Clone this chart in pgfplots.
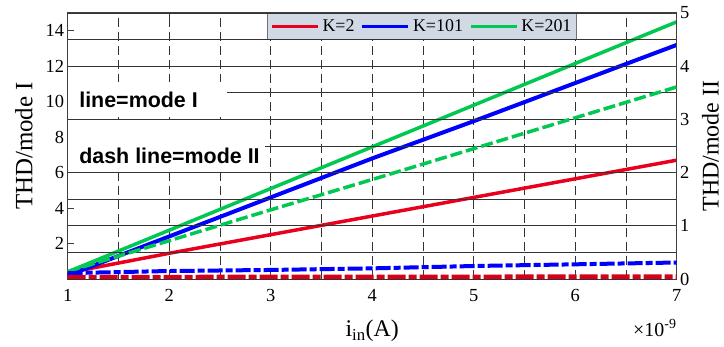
\documentclass[border=0pt]{standalone}
\usepackage{fontspec}
\setmainfont{Liberation Serif}
\newfontfamily\arial{Liberation Sans}
\usepackage{pgfplots}
\pgfplotsset{compat=1.18}
\definecolor{cred}{RGB}{232,0,28}
\definecolor{cdred}{RGB}{215,0,25}
\definecolor{cblue}{RGB}{0,0,255}
\definecolor{cgreen}{RGB}{0,200,80}
\definecolor{legfill}{RGB}{209,218,228}
\begin{document}
\begin{tikzpicture}
\begin{axis}[
  name=ax1, at={(0,0)}, anchor=south west,
  scale only axis, width=609bp, height=266bp,
  xmin=1, xmax=7, ymin=0, ymax=15,
  xtick={1,2,...,7}, minor xtick={1.5,2.5,...,6.5},
  ytick={2,4,...,14},
  ytick pos=left, xtick pos=both,
  tick align=inside,
  major tick length=6bp, minor tick length=0bp,
  xmajorgrids, xminorgrids,
  grid style={black!80, line width=0.7bp, dash pattern=on 9bp off 5bp},
  axis line style={black!75, line width=1bp},
  every tick/.style={black!75, line width=0.8bp},
  tick label style={font=\fontsize{18.5}{20}\selectfont},
  /pgf/number format/assume math mode=true,
  xticklabel style={yshift=-7bp},
  ylabel={THD/mode I},
  ylabel style={at={(axis description cs:-0.072,0.5)}, anchor=center, font=\fontsize{25}{28}\selectfont},
  xlabel={i\textsubscript{in}(A)},
  xlabel style={at={(axis description cs:0.5,-0.195)}, anchor=center, font=\fontsize{24}{28}\selectfont},
  legend columns=3,
  legend style={at={(axis description cs:0.327,1)}, anchor=north west, fill=legfill, draw=black!55, font=\fontsize{18}{20}\selectfont, inner xsep=3bp, inner ysep=4.5bp,
    /tikz/every odd column/.append style={column sep=1bp},
    /tikz/every even column/.append style={column sep=4bp}},
  legend image code/.code={\draw[#1, line width=3.5bp] (0bp,0bp) -- (46bp,0bp);},
]
\addplot[cred, line width=3.5bp] coordinates {(1,0.35) (2,1.45) (3,2.5) (4,3.55) (5,4.6) (6,5.65) (7,6.7)};
\addlegendentry{K=2}
\addplot[cblue, line width=4bp] coordinates {(1,0.2) (2,2.4) (3,4.6) (4,6.8) (5,8.9) (6,11.05) (7,13.2)};
\addlegendentry{K=101}
\addplot[cgreen, line width=3.5bp] coordinates {(1,0.4) (2,2.75) (3,5.1) (4,7.45) (5,9.8) (6,12.15) (7,14.5)};
\addlegendentry{K=201}
\end{axis}
\begin{axis}[
  at={(0,0)}, anchor=south west,
  scale only axis, width=609bp, height=266bp,
  xmin=1, xmax=7, ymin=0, ymax=5,
  axis x line=none, axis y line*=right,
  ytick={0,1,...,5}, minor ytick={0.5,1.5,...,4.5},
  ymajorgrids, yminorgrids,
  grid style={black!80, line width=0.7bp},
  tick align=inside,
  major tick length=6bp, minor tick length=0bp,
  axis line style={black!75, line width=1bp},
  every tick/.style={black!75, line width=0.8bp},
  tick label style={font=\fontsize{18.5}{20}\selectfont},
  /pgf/number format/assume math mode=true,
  ylabel={THD/mode II},
  ylabel style={at={(axis description cs:1.0555,0.5)}, anchor=center, inner sep=0pt, font=\fontsize{24}{26}\selectfont},
]
\fill[white] (axis cs:1.005,3.05) rectangle (axis cs:2.57,3.70);
\fill[white] (axis cs:1.005,2.03) rectangle (axis cs:2.945,2.985);
\node[anchor=west, font=\arial\bfseries\fontsize{21.5}{23}\selectfont] at (axis cs:1.08,3.36) {line=mode I};
\node[anchor=west, font=\arial\bfseries\fontsize{21.5}{23}\selectfont] at (axis cs:1.08,2.31) {dash line=mode II};
\addplot[cgreen, line width=3.5bp, dash pattern=on 12bp off 4bp] coordinates {(1,0.14) (2,0.72) (3,1.30) (4,1.87) (5,2.45) (6,3.03) (7,3.61)};
\addplot[cblue, line width=4bp, dash pattern=on 15bp off 3bp on 7bp off 3bp] coordinates {(1,0.11) (2,0.15) (3,0.17) (4,0.20) (5,0.244) (6,0.276) (7,0.31)};
\addplot[cdred, line width=4.5bp, dash pattern=on 18bp off 3bp on 8bp off 3bp] coordinates {(1,0.035) (2,0.037) (3,0.039) (4,0.04) (5,0.042) (6,0.043) (7,0.045)};
\end{axis}
\node[anchor=base east, font=\fontsize{20}{22}\selectfont, inner sep=0pt] at ([yshift=-57bp]ax1.south east) {×10\textsuperscript{-9}};
\pgfresetboundingbox
\useasboundingbox (-67.7bp,-68bp) rectangle (656.3bp,279bp);
\end{tikzpicture}
\end{document}
